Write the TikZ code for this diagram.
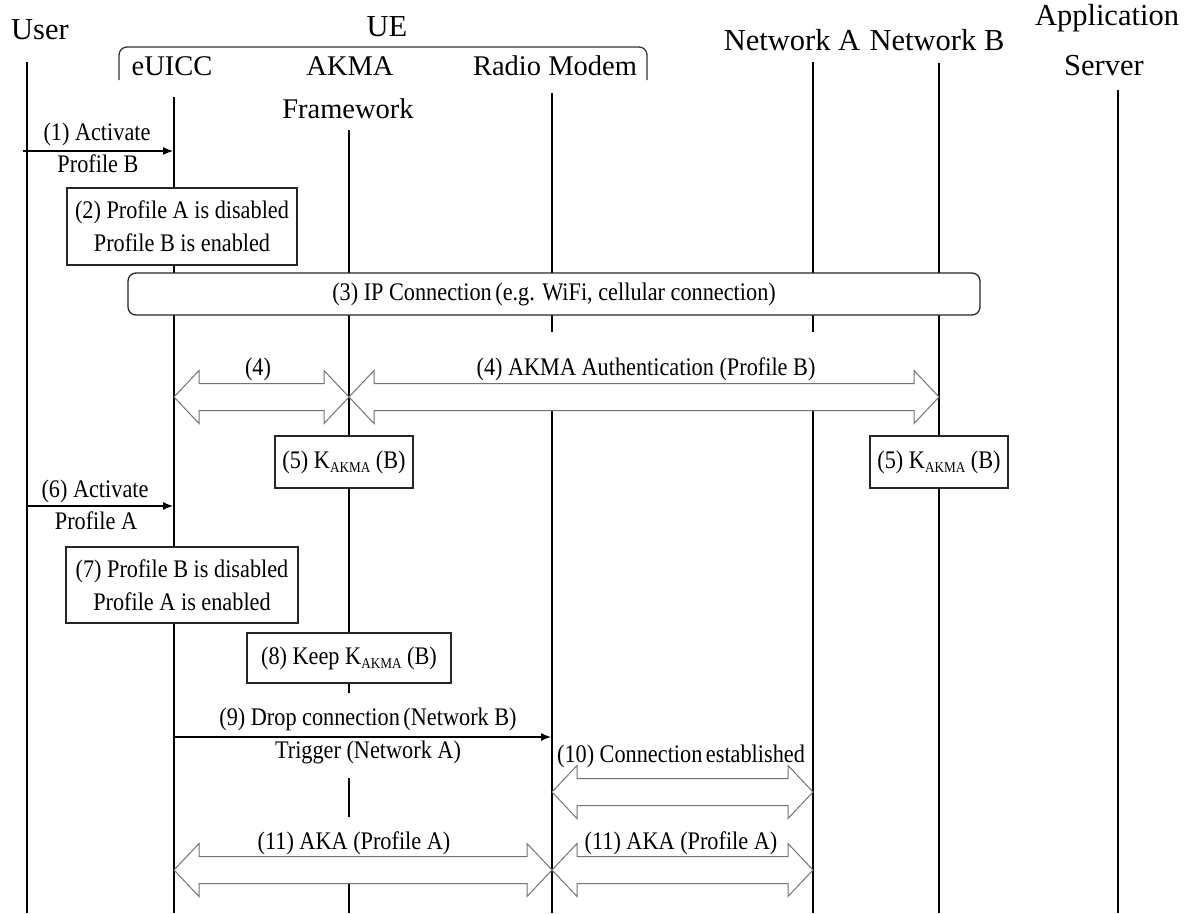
\documentclass[tikz,border=0pt]{standalone}
\usepackage{fontspec}
\setmainfont{Liberation Serif}
\newfontfamily\lblfont{Liberation Serif}[FakeStretch=0.88]
\usetikzlibrary{arrows.meta,calc}

% K with the AKMA subscript
\newcommand\kakma{K\raisebox{-4.5pt}{\fontsize{15}{15}\selectfont AKMA}}

% white double block arrow between two tips at the same height
\newcommand\dblarrow[2]{%
  \draw[blk] (#1) -- ($(#1)+(25,-26.5)$) -- ($(#1)+(25,-13.5)$)
    -- ($(#2)+(-25,-13.5)$) -- ($(#2)+(-25,-26.5)$) -- (#2)
    -- ($(#2)+(-25,26.5)$) -- ($(#2)+(-25,13.5)$)
    -- ($(#1)+(25,13.5)$) -- ($(#1)+(25,26.5)$) -- cycle;}

\begin{document}
\begin{tikzpicture}[x=1pt,y=-1pt,
  life/.style={line width=2.6pt,black},
  hdr/.style={font=\fontsize{30.5}{36}\selectfont,anchor=base,inner sep=0pt},
  subhdr/.style={font=\fontsize{28.5}{34}\selectfont,anchor=base,inner sep=0pt},
  lbl/.style={font=\lblfont\fontsize{25.3}{33}\selectfont,anchor=base,inner sep=0pt},
  mask/.style={lbl,fill=white,inner xsep=3pt,inner ysep=8pt,text height=24pt,text depth=5pt},
  box/.style={draw=black!85,line width=1.3pt,fill=white,inner sep=0pt,align=center,
    font=\lblfont\fontsize{25.3}{33}\selectfont},
  brace/.style={draw=black!80,line width=1.3pt,rounded corners=8pt},
  msg/.style={line width=1.2pt,-{Latex[length=10pt,width=8pt]}},
  blk/.style={draw=black!55,line width=1pt,fill=white,line join=miter}]
\useasboundingbox (0,0) rectangle (1198,913);

% lifelines
\foreach \n/\x/\t in {usr/27/62,uicc/174/97,akma/349/130,modem/552/93,neta/813/62,netb/939/63,as/1118/90}{
  \coordinate (\n-top) at (\x,\t);
  \coordinate (\n-bot) at (\x,913);
}
\foreach \n in {usr,uicc,akma,modem,neta,netb,as}
  \draw[life] (\n-top) -- (\n-bot);

% UE bracket
\draw[brace] (119,80) -- (119,47) -- (647,47) -- (647,80);

% participants
\node[hdr] (hUser) at (40,39) {User};
\node[hdr] (hUE) at (387,36) {UE};
\node[hdr] (hNA) at (792,50) {Network A};
\node[hdr] (hNB) at (937,50) {Network B};
\node[hdr] (hApp) at (1107,25) {Application};
\node[hdr] (hSrv) at (1104,75) {Server};
\node[subhdr] (hUICC) at (172,75) {eUICC};
\node[subhdr] (hAKMA) at (350,75) {AKMA};
\node[subhdr] (hFw) at (348,118) {Framework};
\node[subhdr] (hRM) at (555,75) {Radio Modem};

% boxes
\node[box,minimum width=230pt,minimum height=77pt] (b2) at (182,226.5)
  {(2) Profile A is disabled\\Profile B is enabled};
\node[box,rounded corners=8pt,minimum width=852pt,minimum height=42pt] (ip) at (554,294)
  {(3) IP Connection\hspace{-2pt} (e.g. WiFi, cellular connection)};
\node[box,minimum width=138pt,minimum height=52pt] (k5a) at (344,462) {(5) \kakma{} (B)};
\node[box,minimum width=138pt,minimum height=52pt] (k5b) at (939,462) {(5) \kakma{} (B)};
\node[box,minimum width=232pt,minimum height=76pt] (b7) at (182,585)
  {(7) Profile B is disabled\\Profile A is enabled};
\node[box,minimum width=204pt,minimum height=50pt] (b8) at (349,658) {(8) Keep \kakma{} (B)};

% labels that sit over lifelines
\node[mask,text height=35pt,inner xsep=6pt] (l4b) at (646,375) {(4) AKMA Authentication (Profile B)};
\node[mask] (l9a) at (368,725) {(9) Drop connection\hspace{-2pt} (Network B)};
\node[mask,text height=17pt,text depth=12pt] (l9b) at (368,758) {Trigger (Network A)};
\node[mask] (l11a) at (354,849) {(11) AKA (Profile A)};

% other labels
\node[lbl] (l1a) at (97,140) {(1) Activate};
\node[lbl] (l1b) at (98,172) {Profile B};
\node[lbl] (l4a) at (258,375) {(4)};
\node[lbl] (l6a) at (95,497) {(6) Activate};
\node[lbl] (l6b) at (96,529) {Profile A};
\node[lbl] (l10) at (681,762) {(10) Connection\hspace{-2pt} established};
\node[lbl] (l11b) at (681,849) {(11) AKA (Profile A)};

% message end points
\coordinate (m1s) at (23,151);  \coordinate (m1e) at (173,151);
\coordinate (m6s) at (27,506);  \coordinate (m6e) at (173,506);
\coordinate (m9s) at (174,737); \coordinate (m9e) at (551,737);
\draw[msg] (m1s) -- (m1e);
\draw[msg] (m6s) -- (m6e);
\draw[msg] (m9s) -- (m9e);

% block arrow tips
\coordinate (a4a) at (174,397); \coordinate (a4b) at (349,397); \coordinate (a4c) at (939,397);
\coordinate (a10a) at (552,792); \coordinate (a10b) at (813,792);
\coordinate (a11a) at (174,870); \coordinate (a11b) at (552,870); \coordinate (a11c) at (813,870);
\dblarrow{a4a}{a4b}
\dblarrow{a4b}{a4c}
\dblarrow{a10a}{a10b}
\dblarrow{a11a}{a11b}
\dblarrow{a11b}{a11c}
\end{tikzpicture}
\end{document}
